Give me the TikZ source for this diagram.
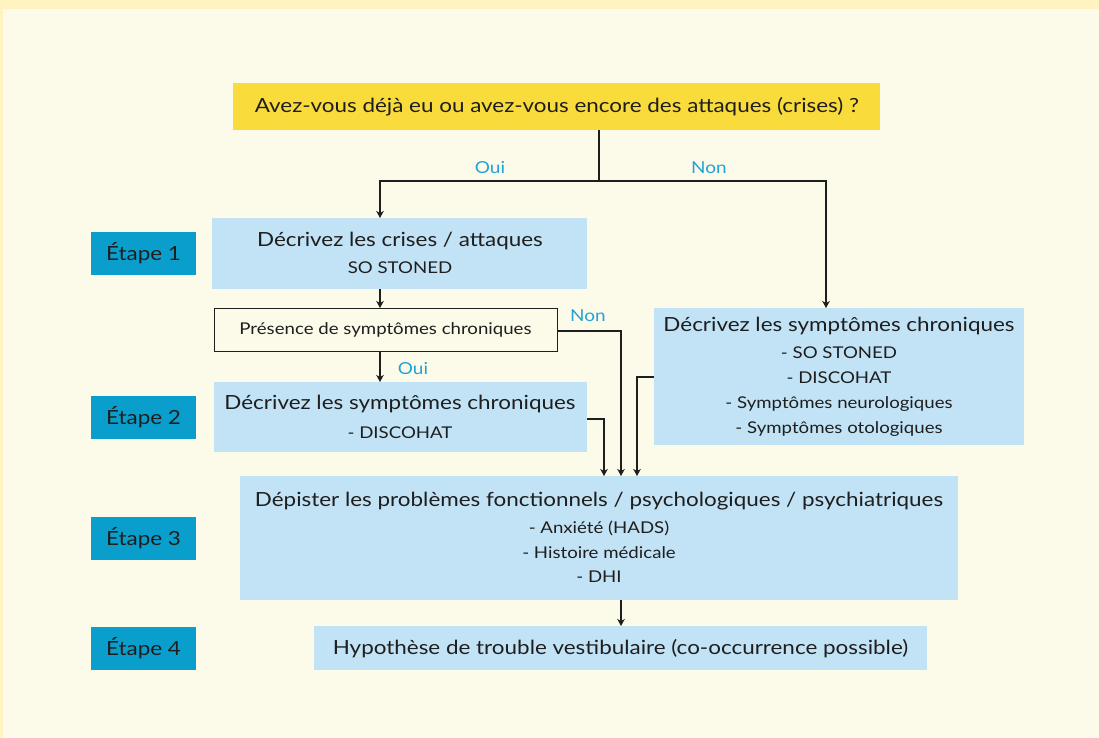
\documentclass[tikz,border=0pt]{standalone}
\usepackage{fontspec}
\setmainfont{Lato}[FakeStretch=1.15]
\usetikzlibrary{arrows.meta}
\definecolor{bgout}{HTML}{FFF3C2}
\definecolor{bgin}{HTML}{FCFAE9}
\definecolor{titley}{HTML}{F9DB3C}
\definecolor{lblue}{HTML}{C2E3F6}
\definecolor{stepc}{HTML}{0A9ECC}
\definecolor{cyanl}{HTML}{22A3D6}
\definecolor{txt}{HTML}{1E1E1E}
\begin{document}
\begin{tikzpicture}[x=1pt,y=-1pt,
  txtnode/.style={draw=none,inner sep=0pt,text=txt,anchor=center},
  bigt/.style={txtnode,font=\fontsize{19.5}{22}\selectfont},
  smallt/.style={txtnode,font=\fontsize{16.2}{19}\selectfont},
  stepbox/.style={fill=stepc,draw=none,minimum width=105pt,minimum height=43pt,inner sep=0pt,text=txt,font=\fontsize{19.5}{22}\selectfont},
  conn/.style={line width=1.6pt,draw=txt},
  arr/.style={conn,-{Stealth[length=7pt,width=7.5pt,inset=2pt]}},
  lab/.style={text=cyanl,font=\fontsize{16.5}{18}\selectfont,inner sep=0pt},
]
\useasboundingbox (0,0) rectangle (1099,738);
\fill[bgout] (0,0) rectangle (1099,738);
\fill[bgin] (3,9) rectangle (1099,738);

% title
\fill[titley] (233,83) rectangle (880,130);
\node[bigt] (title) at (557,107) {Avez-vous déjà eu ou avez-vous encore des attaques (crises) ?};
\coordinate (tb) at (599,130);

% box 1
\fill[lblue] (212,218) rectangle (587,289);
\node[bigt] (b1a) at (400,241) {Décrivez les crises / attaques};
\node[smallt] (b1b) at (400,268) {SO STONED};

% presence box
\draw[line width=1pt,draw=txt,fill=bgin] (214,308) rectangle (557,351);
\node[txtnode,font=\fontsize{16.2}{19}\selectfont] (pres) at (385.5,330) {Présence de symptômes chroniques};

% box 2
\fill[lblue] (214,382) rectangle (587,452);
\node[bigt] (b2a) at (400,404) {Décrivez les symptômes chroniques};
\node[smallt] (b2b) at (400,433) {- DISCOHAT};

% right box
\fill[lblue] (654,308) rectangle (1024,445);
\node[bigt] (bra) at (839,326) {Décrivez les symptômes chroniques};
\node[smallt] (brb) at (839,353) {- SO STONED};
\node[smallt] (brc) at (839,378) {- DISCOHAT};
\node[smallt] (brd) at (839,404) {- Symptômes neurologiques};
\node[smallt] (bre) at (839,429) {- Symptômes otologiques};

% box 3
\fill[lblue] (240,476) rectangle (958,600);
\node[bigt] (b3a) at (599,501) {Dépister les problèmes fonctionnels / psychologiques / psychiatriques};
\node[smallt] (b3b) at (599,528) {- Anxiété (HADS)};
\node[smallt] (b3c) at (599,552.5) {- Histoire médicale};
\node[smallt] (b3d) at (599,577) {- DHI};

% box 4
\fill[lblue] (314,626) rectangle (927,670);
\node[bigt] (b4) at (620.5,649) {Hypothèse de trouble vestibulaire (co-occurrence possible)};

% steps
\node[stepbox] (e1) at (143.5,253.5) {Étape 1};
\node[stepbox] (e2) at (143.5,417.5) {Étape 2};
\node[stepbox] (e3) at (143.5,538.5) {Étape 3};
\node[stepbox] (e4) at (143.5,648) {Étape 4};

% connectors
\coordinate (j) at (599,181);
\coordinate (jl) at (380,181);
\coordinate (jr) at (826,181);
\coordinate (b1t) at (380,218);
\coordinate (brt) at (826,308);
\draw[conn] (tb) -- (j);
\draw[arr] (j) -- (jl) -- (b1t);
\draw[arr] (j) -- (jr) -- (brt);
\node[lab] (oui1) at (490,168) {Oui};
\node[lab] (non1) at (709,168) {Non};

\coordinate (b1bot) at (380,289);
\coordinate (prt) at (380,308);
\draw[arr] (b1bot) -- (prt);
\coordinate (prb) at (380,351);
\coordinate (b2t) at (380,382);
\draw[arr] (prb) -- (b2t);
\node[lab] (oui2) at (413,369) {Oui};
\node[lab] (non2) at (588,316) {Non};

\coordinate (prr) at (557,331);
\coordinate (c1) at (621,331);
\coordinate (b3x) at (621,476);
\draw[arr] (prr) -- (c1) -- (b3x);

\coordinate (b2r) at (587,419);
\coordinate (c2) at (604,419);
\coordinate (b3y) at (604,476);
\draw[arr] (b2r) -- (c2) -- (b3y);

\coordinate (brl) at (654,377);
\coordinate (c3) at (637,377);
\coordinate (b3z) at (637,476);
\draw[arr] (brl) -- (c3) -- (b3z);

\coordinate (b3bot) at (621,600);
\coordinate (b4t) at (621,626);
\draw[arr] (b3bot) -- (b4t);
\end{tikzpicture}
\end{document}
